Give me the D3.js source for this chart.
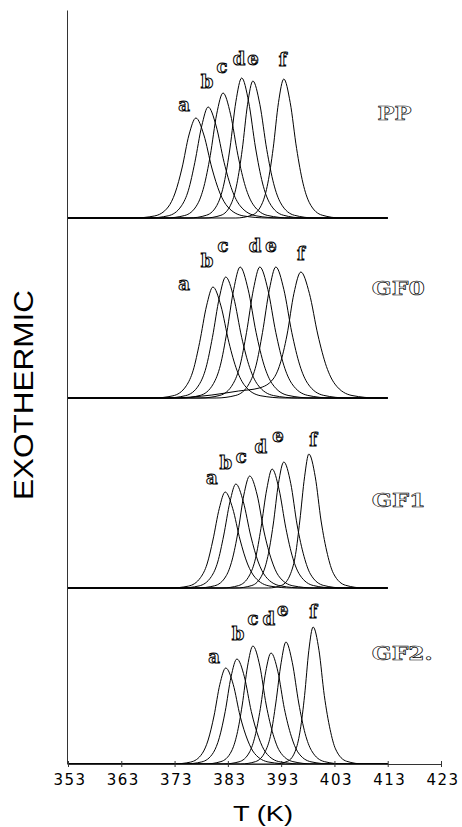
<!DOCTYPE html>
<html>
<head>
<meta charset="utf-8">
<script src="https://cdn.jsdelivr.net/npm/d3@7"></script>
<style>
  html, body { margin: 0; padding: 0; background: #fff; }
  svg { display: block; }
  .tick-label { font-family: 'DejaVu Sans', sans-serif; font-size: 15px; letter-spacing: 1.5px; fill: #000; }
  .axis-title { font-family: 'Liberation Sans', Arial, sans-serif; fill: #000; }
  .peak-letter { font-family: 'DejaVu Serif', serif; font-weight: bold; font-size: 18px; fill: #fff; stroke: #000; stroke-width: 1; opacity: 0.99; }
  .panel-name { font-family: 'DejaVu Serif', serif; font-weight: bold; font-size: 19px; fill: #fff; stroke: #000; stroke-width: 0.65; opacity: 0.99; }
  .curve { fill: none; stroke: #000; stroke-width: 1; }
</style>
</head>
<body>
<div id="chart"></div>
<script>
// temperature axis (K)
var tempTicks = [353, 363, 373, 383, 393, 403, 413, 423];

var panelNames = ['PP', 'GF0', 'GF1', 'GF2.'];
var curveLetters = ['a', 'b', 'c', 'd', 'e', 'f'];

// exotherm curves, [T (K), heat flow (a.u.)]
var ppCurves = [
  [[353,0],[365.3,0],[369.2,0.2],[371.8,1.1],[373.1,2.5],[374.4,5],[375.7,8.3],[377,10],[378.5,8.3],[380,5],[381.5,2.5],[383,1.1],[386,0.2],[390.5,0],[413,0]],
  [[353,0],[368.1,0],[371.8,0.22],[374.3,1.22],[375.6,2.78],[376.8,5.55],[378.1,9.21],[379.3,11.1],[380.8,9.21],[382.3,5.55],[383.8,2.78],[385.3,1.22],[388.3,0.22],[392.8,0],[413,0]],
  [[353,0],[371.3,0],[374.9,0.25],[377.3,1.38],[378.5,3.13],[379.7,6.25],[380.9,10.38],[382.1,12.5],[383.5,10.38],[384.9,6.25],[386.3,3.13],[387.7,1.38],[390.5,0.25],[394.7,0],[413,0]],
  [[353,0],[375.7,0],[379,0.28],[381.2,1.54],[382.3,3.5],[383.4,7],[384.5,11.62],[385.6,14],[386.9,11.62],[388.2,7],[389.5,3.5],[390.8,1.54],[393.4,0.28],[397.3,0],[413,0]],
  [[353,0],[378.7,0],[381.7,0.27],[383.7,1.51],[384.7,3.43],[385.7,6.85],[386.7,11.37],[387.7,13.7],[389,11.37],[390.3,6.85],[391.6,3.43],[392.9,1.51],[395.5,0.27],[399.4,0],[413,0]],
  [[353,0],[384.5,0],[387.5,0.28],[389.5,1.53],[390.5,3.48],[391.5,6.95],[392.5,11.54],[393.5,13.9],[394.7,11.54],[395.9,6.95],[397.1,3.48],[398.3,1.53],[400.7,0.28],[404.3,0],[413,0]]
];

var gf0Curves = [
  [[353,0],[369,0],[372.7,0.22],[375.2,1.22],[376.5,2.78],[377.7,5.55],[379,9.21],[380.2,11.1],[381.7,9.21],[383.2,5.55],[384.7,2.78],[386.2,1.22],[389.2,0.22],[393.7,0],[413,0]],
  [[353,0],[371.4,0],[375.1,0.24],[377.6,1.33],[378.9,3.03],[380.1,6.05],[381.4,10.04],[382.6,12.1],[384.1,10.04],[385.6,6.05],[387.1,3.03],[388.6,1.33],[391.6,0.24],[396.1,0],[413,0]],
  [[353,0],[374.1,0],[377.8,0.26],[380.3,1.44],[381.6,3.28],[382.8,6.55],[384.1,10.87],[385.3,13.1],[386.8,10.87],[388.3,6.55],[389.8,3.28],[391.3,1.44],[394.3,0.26],[398.8,0],[413,0]],
  [[353,0],[377.8,0],[381.5,0.26],[384,1.44],[385.3,3.28],[386.5,6.55],[387.8,10.87],[389,13.1],[390.5,10.87],[392,6.55],[393.5,3.28],[395,1.44],[398,0.26],[402.5,0],[413,0]],
  [[353,0],[380.8,0],[384.5,0.26],[387,1.44],[388.3,3.28],[389.5,6.55],[390.8,10.87],[392,13.1],[393.5,10.87],[395,6.55],[396.5,3.28],[398,1.44],[401,0.26],[405.5,0],[413,0]],
  [[353,0],[372,0],[380,0.3],[385,0.7],[388.9,1.0],[391.5,1.9],[392.8,3.4],[394.1,6.3],[395.4,10.46],[396.7,12.6],[398.3,10.46],[399.9,6.3],[401.5,3.15],[403.1,1.39],[406.3,0.25],[411.1,0],[413,0]]
];

var gf1Curves = [
  [[353,0],[372.2,0],[375.6,0.19],[377.9,1.06],[379.1,2.4],[380.2,4.8],[381.4,7.97],[382.5,9.6],[383.9,7.97],[385.3,4.8],[386.7,2.4],[388.1,1.06],[390.9,0.19],[395.1,0],[413,0]],
  [[353,0],[374.2,0],[377.6,0.21],[379.9,1.14],[381.1,2.6],[382.2,5.2],[383.4,8.63],[384.5,10.4],[385.9,8.63],[387.3,5.2],[388.7,2.6],[390.1,1.14],[392.9,0.21],[397.1,0],[413,0]],
  [[353,0],[377.2,0],[380.5,0.22],[382.7,1.23],[383.8,2.8],[384.9,5.6],[386,9.3],[387.1,11.2],[388.5,9.3],[389.8,5.6],[391.2,2.8],[392.5,1.23],[395.2,0.22],[399.3,0],[413,0]],
  [[353,0],[381.9,0],[385,0.24],[387.1,1.31],[388.2,2.98],[389.2,5.95],[390.3,9.88],[391.3,11.9],[392.6,9.88],[393.9,5.95],[395.2,2.98],[396.5,1.31],[399.1,0.24],[403,0],[413,0]],
  [[353,0],[384.5,0],[387.5,0.25],[389.5,1.39],[390.5,3.15],[391.5,6.3],[392.5,10.46],[393.5,12.6],[394.8,10.46],[396,6.3],[397.3,3.15],[398.5,1.39],[401,0.25],[404.8,0],[413,0]],
  [[353,0],[390.6,0],[393.1,0.27],[394.8,1.47],[395.7,3.35],[396.5,6.7],[397.4,11.12],[398.2,13.4],[399.4,11.12],[400.5,6.7],[401.7,3.35],[402.8,1.47],[405.1,0.27],[408.6,0],[413,0]]
];

var gf2Curves = [
  [[353,0],[372.7,0],[376,0.19],[378.2,1.06],[379.3,2.4],[380.4,4.8],[381.5,7.97],[382.6,9.6],[384,7.97],[385.3,4.8],[386.7,2.4],[388,1.06],[390.7,0.19],[394.8,0],[413,0]],
  [[353,0],[374.8,0],[378.1,0.21],[380.3,1.16],[381.4,2.63],[382.5,5.25],[383.6,8.72],[384.7,10.5],[386.1,8.72],[387.4,5.25],[388.8,2.63],[390.1,1.16],[392.8,0.21],[396.9,0],[413,0]],
  [[353,0],[378.7,0],[381.7,0.24],[383.7,1.3],[384.7,2.95],[385.7,5.9],[386.7,9.79],[387.7,11.8],[389,9.79],[390.2,5.9],[391.5,2.95],[392.7,1.3],[395.2,0.24],[399,0],[413,0]],
  [[353,0],[382.1,0],[385.1,0.22],[387.1,1.22],[388.1,2.78],[389.1,5.55],[390.1,9.21],[391.1,11.1],[392.4,9.21],[393.6,5.55],[394.9,2.78],[396.1,1.22],[398.6,0.22],[402.4,0],[413,0]],
  [[353,0],[385.4,0],[388.2,0.24],[390.1,1.34],[391.1,3.05],[392,6.1],[393,10.13],[393.9,12.2],[395.1,10.13],[396.3,6.1],[397.5,3.05],[398.7,1.34],[401.1,0.24],[404.7,0],[413,0]],
  [[353,0],[391.8,0],[394.2,0.27],[395.8,1.51],[396.6,3.43],[397.4,6.85],[398.2,11.37],[399,13.7],[400.1,11.37],[401.1,6.85],[402.2,3.43],[403.2,1.51],[405.3,0.27],[408.5,0],[413,0]]
];

// where the a..f letters sit, in [T, heat flow] of each panel
var ppLetterAt = [[374.8,10.7],[379.1,13.0],[381.9,14.5],[385.1,15.3],[387.7,15.3],[393.3,15.2]];
var gf0LetterAt = [[374.8,10.8],[379.1,13.1],[382.1,14.6],[388.1,14.6],[391.1,14.6],[396.7,13.8]];
var gf1LetterAt = [[380.0,10.4],[382.6,11.9],[385.5,12.5],[389.2,13.5],[392.4,14.6],[399.0,14.2]];
var gf2LetterAt = [[380.4,10.1],[384.9,12.4],[387.7,13.9],[390.7,13.9],[393.3,14.8],[399.0,14.6]];

var width = 462;
var height = 827;

var x = d3.scaleLinear()
  .domain([353, 423])
  .range([68, 441]);

var panels = [
  { name: panelNames[0], curves: ppCurves, letters: ppLetterAt, base: 218, nameAt: [411.1, 9.8], nameLen: 34 },
  { name: panelNames[1], curves: gf0Curves, letters: gf0LetterAt, base: 398, nameAt: [410, 10.3], nameLen: 53 },
  { name: panelNames[2], curves: gf1Curves, letters: gf1LetterAt, base: 588, nameAt: [410, 8.1], nameLen: 54 },
  { name: panelNames[3], curves: gf2Curves, letters: gf2LetterAt, base: 764, nameAt: [410, 10.4], nameLen: 61 }
];

var svg = d3.select('#chart')
  .append('svg')
  .attr('width', width)
  .attr('height', height);

// left axis, no ticks
var yFull = d3.scaleLinear().range([764, 10]);
svg.append('g')
  .attr('transform', 'translate(67,0)')
  .call(d3.axisLeft(yFull).tickValues([]).tickSizeOuter(0))
  .select('.domain')
  .attr('stroke', '#333');

var line = d3.line()
  .curve(d3.curveMonotoneX)
  .x(function (d) { return x(d[0]); });

panels.forEach(function (p) {
  var y = d3.scaleLinear()
    .domain([0, 15])
    .range([p.base, p.base - 150]);

  line.y(function (d) { return y(d[1]); });

  svg.append('g')
    .selectAll('.curve')
    .data(p.curves)
    .enter().append('path')
    .attr('class', 'curve')
    .attr('d', line);

  svg.append('g')
    .selectAll('.peak-letter')
    .data(p.letters)
    .enter().append('text')
    .attr('class', 'peak-letter')
    .attr('x', function (d) { return x(d[0]); })
    .attr('y', function (d) { return y(d[1]); })
    .attr('text-anchor', 'middle')
    .text(function (d, i) { return curveLetters[i]; });

  svg.append('text')
    .attr('class', 'panel-name')
    .attr('x', x(p.nameAt[0]))
    .attr('y', y(p.nameAt[1]))
    .attr('textLength', p.nameLen)
    .attr('lengthAdjust', 'spacingAndGlyphs')
    .text(p.name);
});

var xAxis = svg.append('g')
  .attr('transform', 'translate(0,764)')
  .call(d3.axisBottom(x).tickValues(tempTicks).tickSizeOuter(0).tickFormat(d3.format('d')));

xAxis.select('.domain').attr('stroke', '#333');
xAxis.selectAll('.tick line')
  .attr('y1', -3)
  .attr('y2', 3)
  .attr('stroke', '#333');
xAxis.selectAll('.tick text')
  .attr('class', 'tick-label')
  .attr('y', 21)
  .attr('dy', null)
  .attr('dx', 1.5);

svg.append('text')
  .attr('class', 'axis-title')
  .attr('x', 263)
  .attr('y', 821)
  .attr('text-anchor', 'middle')
  .attr('font-size', 22)
  .attr('textLength', 60)
  .attr('lengthAdjust', 'spacingAndGlyphs')
  .text('T (K)');

svg.append('text')
  .attr('class', 'axis-title')
  .attr('transform', 'translate(33,395) rotate(-90)')
  .attr('text-anchor', 'middle')
  .attr('font-size', 28)
  .attr('textLength', 210)
  .attr('lengthAdjust', 'spacingAndGlyphs')
  .text('EXOTHERMIC');
</script>
</body>
</html>
